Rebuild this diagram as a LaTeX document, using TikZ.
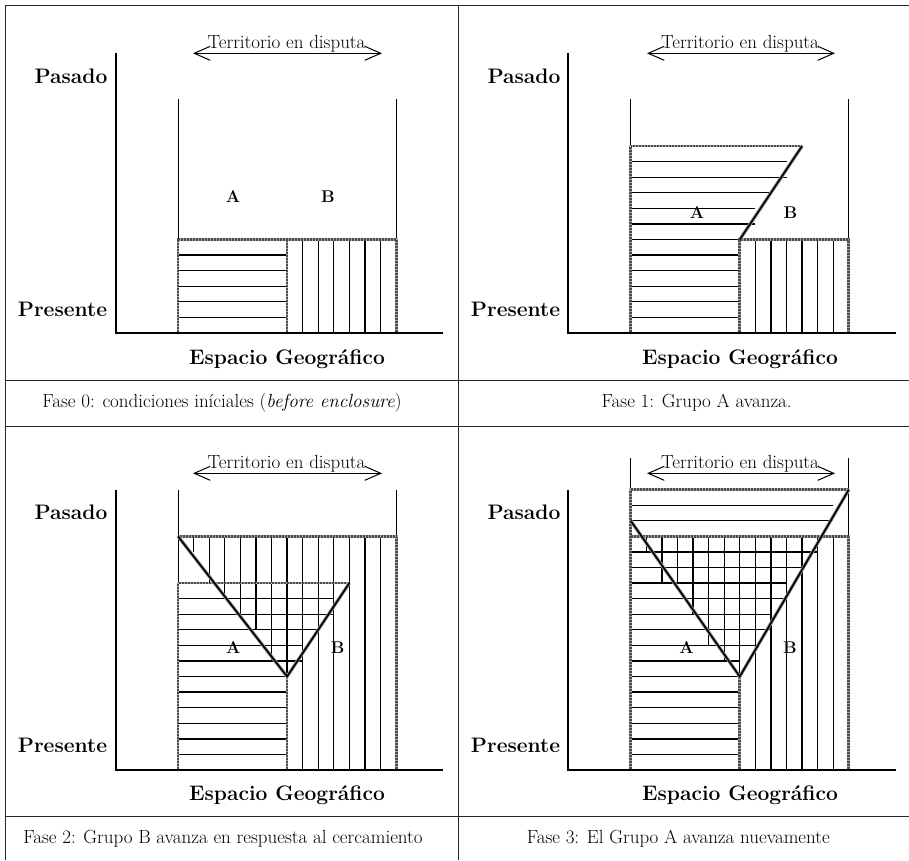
\documentclass[tikz,border=0pt]{standalone}
\usetikzlibrary{arrows.meta}
\tikzset{
  hatch/.style={black, line width=1.3pt},
  axisline/.style={black, line width=2.1pt},
  terr/.style={black, line width=1pt},
  fuzz/.style={draw=black!35, line width=2.8pt,
    postaction={draw=black!70, line width=2.8pt, dash pattern=on 0.5pt off 1pt}},
  diag/.style={draw=black!40, line width=3.4pt,
    postaction={draw=black, line width=1.7pt}},
  tbl/.style={black!85, line width=1pt},
  axlabel/.style={font=\bfseries\fontsize{21}{24}\selectfont, anchor=base, inner sep=0pt},
  grp/.style={font=\bfseries\fontsize{17}{20}\selectfont, anchor=base, inner sep=0pt},
  terrlabel/.style={font=\fontsize{19}{22}\selectfont, anchor=base, inner sep=0pt},
  caption/.style={font=\fontsize{19}{22}\selectfont, anchor=base, inner sep=0pt},
  terrarrow/.style={line width=1pt,
    {Straight Barb[length=16pt,width=14pt]}-{Straight Barb[length=16pt,width=14pt]}},
}
\begin{document}
\begin{tikzpicture}[x=1pt,y=-1pt]
\useasboundingbox (0,0) rectangle (909,860);
% ---------------- table ----------------
\draw[tbl] (5.5,860) -- (5.5,5.5) -- (909,5.5);
\draw[tbl] (458,5.5) -- (458,860);
\draw[tbl] (5.5,380) -- (909,380);
\draw[tbl, line width=1.8pt] (5.5,426.5) -- (909,426.5);
\draw[tbl] (5.5,816) -- (909,816);

% ---------------- Panel 0 (top left) ----------------
\begin{scope}[xshift=178pt, yshift=-333pt, x=15.58pt, y=15.58pt]
  \foreach \y in {1,...,5} \draw[hatch] (0,\y) -- (7,\y);
  \foreach \x in {8,...,13} \draw[hatch] (\x,0) -- (\x,6);
  \draw[terr] (0,15) -- (0,6) (14,15) -- (14,6);
  \draw[fuzz] (0,0) -- (0,6) -- (14,6) -- (14,0);
  \draw[fuzz] (7,0) -- (7,6);
  \draw[axisline] (-4,18) -- (-4,0) -- (17,0);
\end{scope}
\coordinate (t0l) at (193,53.3);
\coordinate (t0r) at (382,53.3);
\draw[terrarrow] (t0l) -- (t0r);
\node[terrlabel] (ter0) at (286.5,48) {Territorio en disputa};
\node[axlabel] (pas0) at (71,83.3) {Pasado};
\node[axlabel] (pre0) at (62.5,316.7) {Presente};
\node[axlabel] (esp0) at (287,364.3) {Espacio Geográfico};
\node[grp] (a0) at (233,202.3) {A};
\node[grp] (b0) at (328,202.3) {B};
\node[caption] (cap0) at (222,407.3) {Fase 0: condiciones iníciales (\textit{before enclosure})};

% ---------------- Panel 1 (top right) ----------------
\begin{scope}[xshift=630.7pt, yshift=-333pt, x=15.58pt, y=15.58pt]
  \foreach \y in {1,...,6} \draw[hatch] (0,\y) -- (7,\y);
  \foreach \y/\e in {7/8,8/8,9/9,10/10,11/10} \draw[hatch] (0,\y) -- (\e,\y);
  \foreach \x in {8,...,13} \draw[hatch] (\x,0) -- (\x,6);
  \draw[terr] (0,15) -- (0,12) (14,15) -- (14,6);
  \draw[fuzz] (0,0) -- (0,12) -- (11,12);
  \draw[fuzz] (7,0) -- (7,6) -- (14,6) -- (14,0);
  \draw[diag] (11,12) -- (7,6);
  \draw[axisline] (-4,18) -- (-4,0) -- (17,0);
\end{scope}
\coordinate (t1l) at (647,53.3);
\coordinate (t1r) at (835,53.3);
\draw[terrarrow] (t1l) -- (t1r);
\node[terrlabel] (ter1) at (740,48) {Territorio en disputa};
\node[axlabel] (pas1) at (524,83.3) {Pasado};
\node[axlabel] (pre1) at (515.5,316.7) {Presente};
\node[axlabel] (esp1) at (740,364.3) {Espacio Geográfico};
\node[grp] (a1) at (697,218.3) {A};
\node[grp] (b1) at (790.5,218.3) {B};
\node[caption] (cap1) at (696.7,407.3) {Fase 1: Grupo A avanza.};

% ---------------- Panel 2 (bottom left) ----------------
\begin{scope}[xshift=178pt, yshift=-770pt, x=15.58pt, y=15.58pt]
  \foreach \y in {1,...,6} \draw[hatch] (0,\y) -- (7,\y);
  \foreach \y/\e in {7/8,8/8,9/9,10/10,11/10} \draw[hatch] (0,\y) -- (\e,\y);
  \foreach \x/\e in {1/14,2/12,3/11,4/10,5/9,6/7,7/6} \draw[hatch] (\x,15) -- (\x,\e);
  \foreach \x in {8,...,13} \draw[hatch] (\x,0) -- (\x,15);
  \draw[terr] (0,18) -- (0,12) (14,18) -- (14,15);
  \draw[fuzz] (0,0) -- (0,12) -- (11,12);
  \draw[fuzz] (0,15) -- (14,15) -- (14,0);
  \draw[fuzz] (7,0) -- (7,6);
  \draw[diag] (0,15) -- (7,6) -- (11,12);
  \draw[axisline] (-4,18) -- (-4,0) -- (17,0);
\end{scope}
\coordinate (t2l) at (193,473.3);
\coordinate (t2r) at (382,473.3);
\draw[terrarrow] (t2l) -- (t2r);
\node[terrlabel] (ter2) at (286.5,468) {Territorio en disputa};
\node[axlabel] (pas2) at (71,519.3) {Pasado};
\node[axlabel] (pre2) at (62.5,752.7) {Presente};
\node[axlabel] (esp2) at (287,800.3) {Espacio Geográfico};
\node[grp] (a2) at (233.3,653.3) {A};
\node[grp] (b2) at (337.7,653.3) {B};
\node[caption] (cap2) at (223,843.3) {Fase 2: Grupo B avanza en respuesta al cercamiento};

% ---------------- Panel 3 (bottom right) ----------------
\begin{scope}[xshift=630.7pt, yshift=-770pt, x=15.58pt, y=15.58pt]
  \foreach \y in {1,...,6} \draw[hatch] (0,\y) -- (7,\y);
  \foreach \y/\e in {7/7,8/8,9/9,10/9,11/10,12/10,13/11,14/12,16/13,17/13} \draw[hatch] (0,\y) -- (\e,\y);
  \foreach \x/\e in {1/14,2/12,3/12,4/10,5/8,6/7,7/6} \draw[hatch] (\x,15) -- (\x,\e);
  \foreach \x in {8,...,13} \draw[hatch] (\x,0) -- (\x,15);
  \draw[terr] (0,20) -- (0,18) (14,20) -- (14,15);
  \draw[fuzz] (0,0) -- (0,18) -- (14,18);
  \draw[fuzz] (0,15) -- (14,15) -- (14,0);
  \draw[fuzz] (7,0) -- (7,6);
  \draw[diag] (0,16) -- (7,6) -- (14,18);
  \draw[axisline] (-4,18) -- (-4,0) -- (17,0);
\end{scope}
\coordinate (t3l) at (647,473.3);
\coordinate (t3r) at (835,473.3);
\draw[terrarrow] (t3l) -- (t3r);
\node[terrlabel] (ter3) at (740,468) {Territorio en disputa};
\node[axlabel] (pas3) at (524,519.3) {Pasado};
\node[axlabel] (pre3) at (515.5,752.7) {Presente};
\node[axlabel] (esp3) at (740,800.3) {Espacio Geográfico};
\node[grp] (a3) at (686.7,653.3) {A};
\node[grp] (b3) at (790,653.3) {B};
\node[caption] (cap3) at (678.3,843.3) {Fase 3: El Grupo A avanza nuevamente};
\end{tikzpicture}
\end{document}
